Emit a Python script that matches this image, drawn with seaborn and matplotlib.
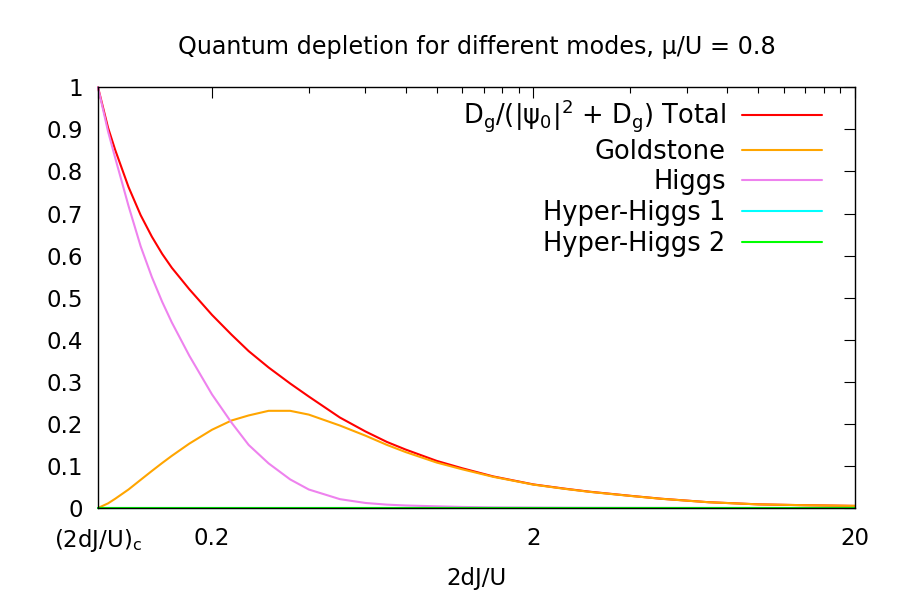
import numpy as np
import pandas as pd
import matplotlib
matplotlib.use('Agg')
import matplotlib.pyplot as plt
from matplotlib.ticker import NullFormatter
import seaborn as sns

# values
x_crit = 0.0884
x_vals = [0.0884, 0.095, 0.1, 0.11, 0.12, 0.13, 0.14, 0.15, 0.17, 0.2, 0.23, 0.26, 0.3,
          0.35, 0.4, 0.5, 0.6, 0.7, 0.8, 1.0, 1.2, 1.5, 2.0, 2.5, 3.0, 4.0, 5.0, 7.0,
          10.0, 14.0, 20.0]
total = [1.0, 0.904, 0.851, 0.763, 0.696, 0.645, 0.604, 0.571, 0.520, 0.459, 0.412, 0.373,
         0.334, 0.296, 0.265, 0.215, 0.182, 0.157, 0.139, 0.112, 0.0945, 0.075, 0.056,
         0.046, 0.0386, 0.029, 0.022, 0.0138, 0.0087, 0.0066, 0.005]
goldstone = [0.0, 0.011, 0.022, 0.044, 0.067, 0.088, 0.107, 0.124, 0.153, 0.186, 0.208,
             0.220, 0.231, 0.231, 0.222, 0.196, 0.172, 0.150, 0.133, 0.108, 0.092, 0.074,
             0.0555, 0.0455, 0.0382, 0.0287, 0.0218, 0.0137, 0.0086, 0.0066, 0.005]
higgs = [1.0, 0.895, 0.832, 0.718, 0.622, 0.549, 0.490, 0.441, 0.362, 0.270, 0.203, 0.150,
         0.106, 0.068, 0.044, 0.021, 0.012, 0.008, 0.006, 0.004, 0.0025, 0.0015, 0.001,
         0.0006, 0.0004, 0.0002, 0.0001, 0.0, 0.0, 0.0, 0.0]
hyper1 = [0.0] * len(x_vals)
hyper2 = [0.0] * len(x_vals)

labels = [r'D$_\mathregular{g}$/(|ψ$_\mathregular{0}$|$^\mathregular{2}$ + D$_\mathregular{g}$) Total',
          'Goldstone', 'Higgs', 'Hyper-Higgs 1', 'Hyper-Higgs 2']
colors = ['#ff0000', '#ffa500', '#ee82ee', '#00ffff', '#00ff00']
series = [total, goldstone, higgs, hyper1, hyper2]

ytick_vals = [0, 0.1, 0.2, 0.3, 0.4, 0.5, 0.6, 0.7, 0.8, 0.9, 1.0]
xtick_vals = [x_crit, 0.2, 2, 20]
xtick_labels = [r'$\mathregular{(2dJ/U)_c}$', '0.2', '2', '20']
xminor_vals = [0.4, 0.6, 0.8, 1.0, 1.2, 1.4, 1.6, 1.8, 4, 6, 8, 10, 12, 14, 16, 18]

sns.set_style('white')
plt.rcParams['font.family'] = ['DejaVu Sans']
plt.rcParams['text.color'] = 'black'
plt.rcParams['axes.labelcolor'] = 'black'

fig = plt.figure(figsize=(9, 6), dpi=100)
ax = fig.add_axes([98 / 900, 1 - 508 / 600, (855 - 98) / 900, (508 - 87.3) / 600])

for vals, lab, col in zip(series, labels, colors):
    df = pd.DataFrame({'x': x_vals, 'y': vals})
    sns.lineplot(data=df, x='x', y='y', ax=ax, color=col, label=lab, linewidth=1.5,
                 sort=False, legend=False)

for ln in ax.lines:
    ln.set_clip_on(False)

ax.set_xscale('log')
ax.set_xlim(x_crit, 20)
ax.set_ylim(0, 1)
ax.set_xticks(xtick_vals, labels=xtick_labels)
ax.set_xticks(xminor_vals, minor=True)
ax.xaxis.set_minor_formatter(NullFormatter())
ax.set_yticks(ytick_vals, labels=[f'{v:g}' for v in ytick_vals])
ax.tick_params(which='both', direction='in', top=True, right=True, colors='black',
               labelsize=16.5, width=0.8)
ax.tick_params(which='major', length=8)
ax.tick_params(which='minor', length=4)
ax.tick_params(axis='x', pad=14)
ax.tick_params(axis='y', pad=11)
for sp in ax.spines.values():
    sp.set_color('black')
    sp.set_linewidth(1.0)

ax.set_xlabel('2dJ/U', fontsize=16.5, color='black')
ax.set_ylabel('')
ax.xaxis.label.set_va('center')
ax.xaxis.set_label_coords(0.5, -(578 - 508) / 420.7)
ax.set_title('Quantum depletion for different modes, μ/U = 0.8', fontsize=17.2, pad=24,
             color='black')

handles, labs = ax.get_legend_handles_labels()
leg = ax.legend(handles, labs, loc='upper right', bbox_to_anchor=(0.9564, 0.976),
                frameon=False, markerfirst=False, fontsize=18.5, handlelength=3.1,
                handletextpad=0.65, labelspacing=0.18, borderpad=0, borderaxespad=0)
for t in leg.get_texts():
    t.set_color('black')

fig.savefig('out.png', dpi=100)
